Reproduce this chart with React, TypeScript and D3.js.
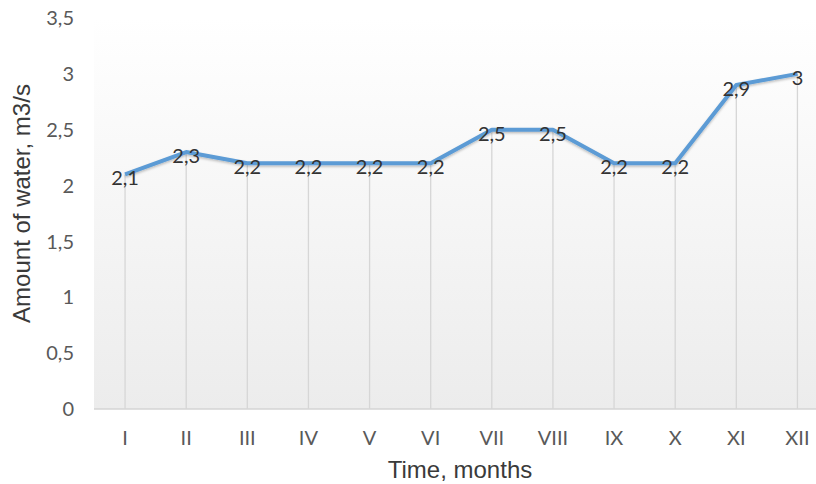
import React from "react";
import * as d3 from "d3";

const months = ["I", "II", "III", "IV", "V", "VI", "VII", "VIII", "IX", "X", "XI", "XII"];
const water = [2.1, 2.3, 2.2, 2.2, 2.2, 2.2, 2.5, 2.5, 2.2, 2.2, 2.9, 3];
const yTicks = [0, 0.5, 1, 1.5, 2, 2.5, 3, 3.5];

const W = 816;
const H = 484;
const FONT = "Lato, 'Open Sans', sans-serif";
const TFONT = "'Liberation Sans', Arial, sans-serif";

export default function App() {
  const x = d3.scaleBand<string>().domain(months).range([94.5, 828]);
  const y = d3.scaleLinear().domain([0, 3.5]).range([409, 18]);
  const cx = (m: string) => (x(m) as number) + x.bandwidth() / 2;
  const fmt = (v: number) => String(v).replace(".", ",");
  const line = d3
    .line<number>()
    .x((_, i) => cx(months[i]))
    .y((d) => y(d));

  return (
    <svg
      width={W}
      height={H}
      style={{ position: "absolute", left: 0, top: 0, background: "#fff" }}
    >
      <defs>
        <linearGradient id="bg" x1="0" y1="0" x2="0" y2="1">
          <stop offset="0" stopColor="#ffffff" />
          <stop offset="1" stopColor="#ececec" />
        </linearGradient>
        <filter id="sh" x="-10%" y="-10%" width="120%" height="130%">
          <feDropShadow dx="0" dy="1.5" stdDeviation="1.2" floodColor="#000" floodOpacity="0.25" />
        </filter>
      </defs>
      <rect x={94} y={y(3.5)} width={W - 94} height={y(0) - y(3.5)} fill="url(#bg)" />
      <line x1={94} x2={W} y1={y(0)} y2={y(0)} stroke="#d4d4d4" strokeWidth={1.5} />
      {water.map((v, i) => (
        <line
          key={"d" + i}
          x1={cx(months[i])}
          x2={cx(months[i])}
          y1={y(v)}
          y2={y(0)}
          stroke="#d6d6d6"
          strokeWidth={1.3}
        />
      ))}
      <path
        d={line(water) as string}
        fill="none"
        stroke="#5b9bd5"
        strokeWidth={4}
        strokeLinejoin="round"
        filter="url(#sh)"
      />
      {water.map((v, i) => (
        <text
          key={"l" + i}
          x={cx(months[i])}
          y={y(v)}
          dy="0.55em"
          textAnchor="middle"
          fontFamily={FONT}
          fontSize={20}
          fill="#333333"
        >
          {fmt(v)}
        </text>
      ))}
      {yTicks.map((t) => (
        <text
          key={"y" + t}
          x={74}
          y={y(t)}
          dy="0.36em"
          textAnchor="end"
          fontFamily={FONT}
          fontSize={20}
          fill="#595959"
        >
          {fmt(t)}
        </text>
      ))}
      {months.map((m) => (
        <text
          key={"x" + m}
          x={cx(m)}
          y={438}
          dy="0.36em"
          textAnchor="middle"
          fontFamily={FONT}
          fontSize={20}
          fill="#595959"
        >
          {m}
        </text>
      ))}
      <text
        x={460}
        y={478}
        textAnchor="middle"
        fontFamily={TFONT}
        fontSize={24}
        fill="#3a3a3a"
      >
        Time, months
      </text>
      <text
        transform={`translate(30,203.5) rotate(-90)`}
        textAnchor="middle"
        fontFamily={TFONT}
        fontSize={24}
        fill="#3a3a3a"
      >
        Amount of water, m3/s
      </text>
    </svg>
  );
}
